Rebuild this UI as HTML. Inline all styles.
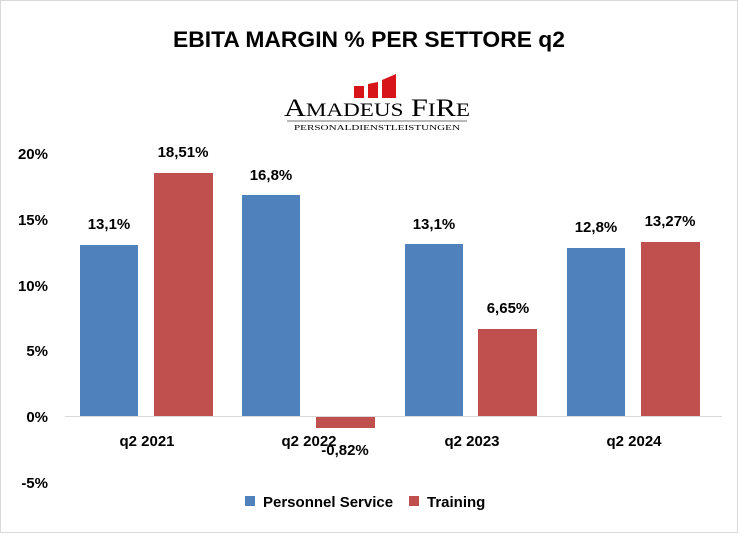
<!DOCTYPE html>
<html><head><meta charset="utf-8"><style>
body{margin:0;background:#fff}
svg text{font-family:"Liberation Sans",sans-serif;font-weight:bold;fill:#000}
</style></head><body>
<svg width="738" height="533" viewBox="0 0 738 533" xmlns="http://www.w3.org/2000/svg">
<rect x="0.5" y="0.5" width="737" height="532" fill="#fff" stroke="#d9d9d9"/>
<text x="369" y="47" font-size="22" text-anchor="middle" textLength="392" lengthAdjust="spacingAndGlyphs">EBITA MARGIN % PER SETTORE q2</text>
<g fill="#d7141a">
<polygon points="354,86 364,86 364,98 354,98"/>
<polygon points="368,84 378,82 378,98 368,98"/>
<polygon points="382,80 396,74 396,98 382,98"/>
</g>
<text x="377" y="116" font-size="25" text-anchor="middle" textLength="186" lengthAdjust="spacingAndGlyphs" style="font-family:'Liberation Serif',serif;font-weight:normal">A<tspan font-size="19">MADEUS</tspan> F<tspan font-size="19">I</tspan>R<tspan font-size="19">E</tspan></text>
<line x1="287" y1="121" x2="467" y2="121" stroke="#444" stroke-width="0.8"/>
<text x="377" y="130" font-size="7.5" text-anchor="middle" textLength="166" lengthAdjust="spacingAndGlyphs" style="font-family:'Liberation Serif',serif;font-weight:normal">PERSONALDIENSTLEISTUNGEN</text>
<g font-size="15" text-anchor="end">
<text x="48" y="159">20%</text>
<text x="48" y="225">15%</text>
<text x="48" y="291">10%</text>
<text x="48" y="356">5%</text>
<text x="48" y="422">0%</text>
<text x="48" y="488">-5%</text>
</g>
<g fill="#4f81bd">
<rect x="80" y="245" width="58" height="171"/>
<rect x="242" y="195" width="58" height="221"/>
<rect x="405" y="244" width="58" height="172"/>
<rect x="567" y="248" width="58" height="168"/>
</g>
<g fill="#c0504d">
<rect x="154" y="173" width="59" height="243"/>
<rect x="316" y="417" width="59" height="11"/>
<rect x="478" y="329" width="59" height="87"/>
<rect x="641" y="242" width="59" height="174"/>
</g>
<line x1="65" y1="416.5" x2="722" y2="416.5" stroke="#d9d9d9" stroke-width="1"/>
<g font-size="15" text-anchor="middle">
<text x="109" y="229">13,1%</text>
<text x="183" y="157">18,51%</text>
<text x="271" y="180">16,8%</text>
<text x="345" y="455">-0,82%</text>
<text x="434" y="229">13,1%</text>
<text x="508" y="313">6,65%</text>
<text x="596" y="232">12,8%</text>
<text x="670" y="226">13,27%</text>
</g>
<g font-size="15" text-anchor="middle">
<text x="147" y="446">q2 2021</text>
<text x="309" y="446">q2 2022</text>
<text x="472" y="446">q2 2023</text>
<text x="634" y="446">q2 2024</text>
</g>
<rect x="245" y="496" width="10" height="10" fill="#4f81bd"/>
<text x="263" y="507" font-size="15">Personnel Service</text>
<rect x="409" y="496" width="10" height="10" fill="#c0504d"/>
<text x="427" y="507" font-size="15">Training</text>
</svg>
</body></html>
